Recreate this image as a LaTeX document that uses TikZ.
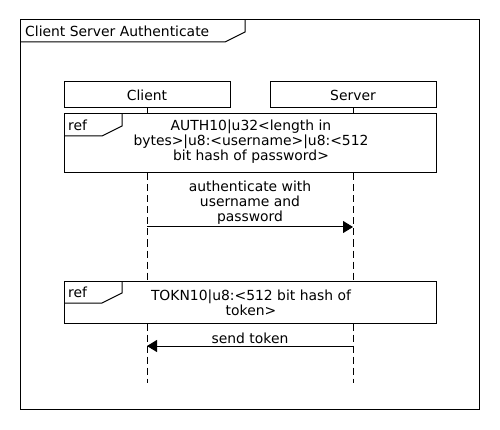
\documentclass[tikz,border=0pt]{standalone}
\usepackage{fontspec}
\setmainfont{DejaVu Sans}
\usetikzlibrary{arrows.meta}
\begin{document}
\begin{tikzpicture}[x=1pt,y=-1pt,
  every node/.style={font=\fontsize{13.9}{15}\selectfont, inner sep=0pt},
  box/.style={draw, line width=1pt},
  life/.style={line width=1pt, dash pattern=on 7pt off 4pt},
  msg/.style={line width=1pt, -{Triangle[length=10pt,width=12pt]}},
  txt/.style={align=center}]
\useasboundingbox (0,0) rectangle (500,430);
\fill[white] (0,0) rectangle (500,430);
% frame
\draw[box] (20,20) rectangle (479,409);
\draw[line width=1pt] (20,42) -- (225,42) -- (245,32) -- (245,20);
\node[anchor=west] (title) at (25,31) {Client Server Authenticate};
% participants
\node[box, minimum width=166pt, minimum height=26pt] (client) at (147,95) {Client};
\node[box, minimum width=166pt, minimum height=26pt] (server) at (353,95) {Server};
% ref 1
\node[box, minimum width=372pt, minimum height=59pt] (ref1) at (250,143.5) {};
\draw[line width=1pt] (64,136) -- (102,136) -- (122,126) -- (122,114);
\node[anchor=west] (ref1tag) at (68,125) {ref};
\node[txt] (ref1txt) at (251,142) {AUTH10|u32<length in\\bytes>|u8:<username>|u8:<512\\bit hash of password>};
% ref 2
\node[box, minimum width=372pt, minimum height=42pt] (ref2) at (250,302) {};
\draw[line width=1pt] (64,303) -- (102,303) -- (122,293) -- (122,281);
\node[anchor=west] (ref2tag) at (68,292) {ref};
\node[txt] (ref2txt) at (251,302.5) {TOKN10|u8:<512 bit hash of\\token>};
% lifelines
\coordinate (cend) at (147,383);
\coordinate (send) at (353,383);
\draw[line width=1pt] (client.south) -- (client.south |- ref1.north);
\draw[line width=1pt] (server.south) -- (server.south |- ref1.north);
\draw[life] (client.south |- ref1.south) -- (client.south |- ref2.north);
\draw[life] (server.south |- ref1.south) -- (server.south |- ref2.north);
\draw[life] (client.south |- ref2.south) -- (cend);
\draw[life] (server.south |- ref2.south) -- (send);
% messages
\coordinate (m1a) at (147,227);
\coordinate (m1b) at (353,227);
\draw[msg] (m1a) -- (m1b);
\node[txt] (m1lbl) at (250,203) {authenticate with\\username and\\password};
\coordinate (m2a) at (353,346);
\coordinate (m2b) at (147,346);
\draw[msg] (m2a) -- (m2b);
\node (m2lbl) at (250,338) {send token};
\end{tikzpicture}
\end{document}
